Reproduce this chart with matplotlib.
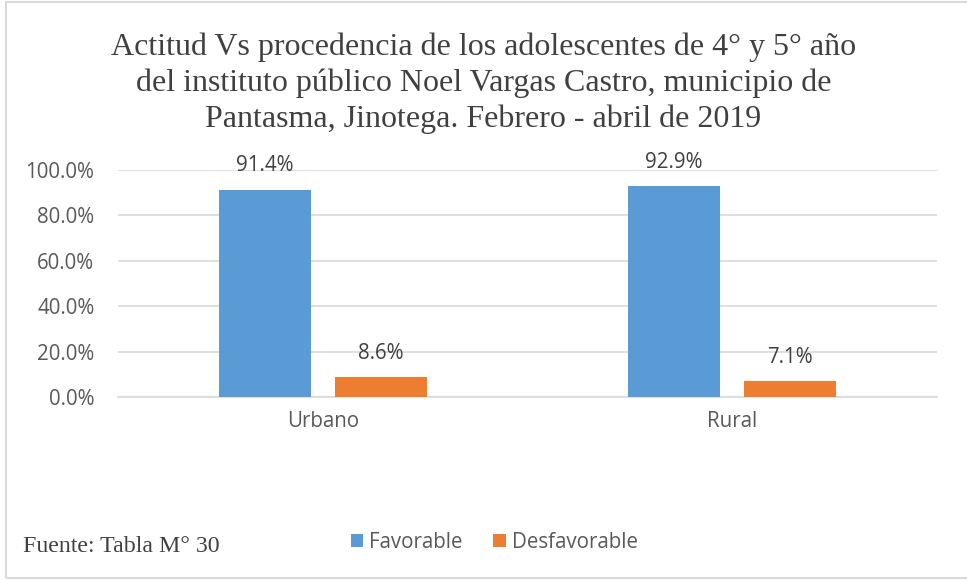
import numpy as np
import matplotlib.pyplot as plt
from matplotlib.patches import Rectangle

categories = ["Urbano", "Rural"]
series_names = ["Favorable", "Desfavorable"]
favorable = [0.914, 0.929]
desfavorable = [0.086, 0.071]
colors = ["#5b9bd5", "#ed7d31"]

title = ("Actitud Vs procedencia de los adolescentes de 4° y 5° año\n"
         "del instituto público Noel Vargas Castro, municipio de\n"
         "Pantasma, Jinotega. Febrero - abril de 2019")
source = "Fuente: Tabla M° 30"

fig = plt.figure(figsize=(9.67, 5.8), dpi=100)
ax = fig.add_axes([118 / 967, 1 - 397 / 580, 819 / 967, 227 / 580])

x = np.arange(len(categories))
w = 0.225
off = 0.142
sans = ["Open Sans", "DejaVu Sans"]
gray = "#595959"
fs = 14.8

for vals, dx, col, name in [(favorable, -off, colors[0], series_names[0]),
                            (desfavorable, off, colors[1], series_names[1])]:
    bars = ax.bar(x + dx, vals, w, color=col, label=name, zorder=3)
    for b, v in zip(bars, vals):
        ax.annotate(f"{v * 100:.1f}%", (b.get_x() + b.get_width() / 2, v),
                    xytext=(0, 17), textcoords="offset points", ha="center",
                    va="center", fontsize=fs, color="#404040", family=sans)

ax.set_xlim(-0.5, 1.5)
ax.set_ylim(0, 1.0)
ticks = np.arange(0, 1.01, 0.2)
ax.set_yticks(ticks)
ax.set_yticklabels([f"{t * 100:.1f}%" for t in ticks],
                   fontsize=fs, color=gray, family=sans)
ax.set_xticks(x)
ax.set_xticklabels(categories, fontsize=fs, color=gray, family=sans)
ax.tick_params(length=0)
ax.tick_params(axis="x", pad=10)
ax.tick_params(axis="y", pad=17)
ax.grid(axis="y", color="#d9d9d9", linewidth=1.2, zorder=0)
for s in ["top", "right", "left"]:
    ax.spines[s].set_visible(False)
ax.spines["bottom"].set_color("#d9d9d9")
ax.spines["bottom"].set_linewidth(1.2)

fig.text(0.5, 1 - 83 / 580, title, ha="center", va="center", fontsize=23,
         family="Liberation Serif", color="#404040", linespacing=1.29)
fig.text(23 / 967, 1 - 546 / 580, source, ha="left", va="center", fontsize=17.2,
         family="Liberation Serif", color="#404040")

fig.legend(loc="center left", bbox_to_anchor=(332 / 967, 1 - 542 / 580),
           ncol=2, frameon=False, prop={"family": sans, "size": fs},
           labelcolor=gray, handlelength=0.6, handleheight=0.6,
           handletextpad=0.3, columnspacing=1.5)

fig.patches.append(Rectangle((6 / 967, 2 / 580), 1.2, 1 - 4 / 580,
                             transform=fig.transFigure, fill=False,
                             edgecolor="#d9d9d9", linewidth=1.5))

fig.savefig("out.png", dpi=100)
